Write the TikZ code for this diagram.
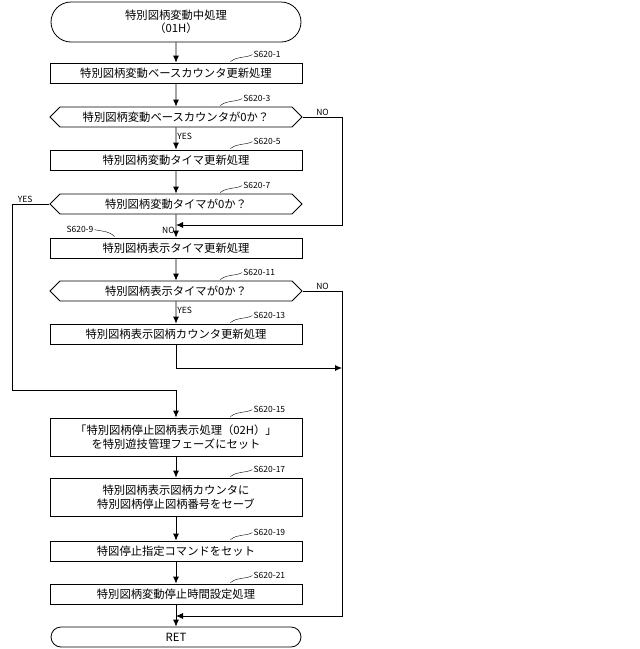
\documentclass[tikz,border=0pt]{standalone}
\usepackage{fontspec}
\setmainfont{Noto Sans CJK JP}
\usetikzlibrary{shapes.misc,shapes.symbols,arrows.meta}
\tikzset{
  proc/.style={draw, thick, minimum width=252pt, minimum height=20pt, inner sep=1pt, align=center, font=\fontsize{11.3}{13.5}\selectfont},
  term/.style={proc, rounded rectangle},
  decide/.style={draw, thick, signal, signal to=east and west, signal pointer angle=90, minimum width=252pt, minimum height=20pt, inner sep=1pt, font=\fontsize{11.3}{13.5}\selectfont},
  flow/.style={thick, -{Latex[length=7pt,width=6pt]}},
  tag/.style={font=\fontsize{8.5}{10}\selectfont, inner sep=1pt},
  yn/.style={font=\fontsize{8.5}{10}\selectfont, inner sep=1pt}
}
\newcommand{\steptag}[2]{%
  \draw (#1.north east) ++(-72pt,1pt) .. controls +(8pt,6pt) and +(-8pt,-4pt) .. ++(22pt,7pt) node[tag, right]{#2};}
\begin{document}
\begin{tikzpicture}[x=1pt, y=-1pt]
\useasboundingbox (0,0) rectangle (640,649);
\node[term, minimum height=40pt] (start) at (176,22) {特別図柄変動中処理\\（01H）};
\node[proc] (base) at (176,73) {特別図柄変動ベースカウンタ更新処理};
\node[decide] (isbase) at (176,117) {特別図柄変動ベースカウンタが0か？};
\node[proc] (vtimer) at (176,160) {特別図柄変動タイマ更新処理};
\node[decide] (isvt) at (176,204) {特別図柄変動タイマが0か？};
\node[proc] (dtimer) at (176,248) {特別図柄表示タイマ更新処理};
\node[decide] (isdt) at (176,291) {特別図柄表示タイマが0か？};
\node[proc] (dcount) at (176,334) {特別図柄表示図柄カウンタ更新処理};
\node[proc, minimum height=38pt] (phase) at (176,437) {「特別図柄停止図柄表示処理（02H）」\\を特別遊技管理フェーズにセット};
\node[proc, minimum height=38pt] (save) at (176,497) {特別図柄表示図柄カウンタに\\特別図柄停止図柄番号をセーブ};
\node[proc] (cmd) at (176,551) {特図停止指定コマンドをセット};
\node[proc] (stime) at (176,594) {特別図柄変動停止時間設定処理};
\node[term] (ret) at (176,637) {RET};

\coordinate (m1) at (176,225);
\coordinate (m2) at (176,368);
\coordinate (m3) at (176,390);
\coordinate (m4) at (176,616);

\steptag{base}{S620-1}
\steptag{isbase}{S620-3}
\steptag{vtimer}{S620-5}
\steptag{isvt}{S620-7}
\steptag{isdt}{S620-11}
\steptag{dcount}{S620-13}
\steptag{phase}{S620-15}
\steptag{save}{S620-17}
\steptag{cmd}{S620-19}
\steptag{stime}{S620-21}
\draw (dtimer.north west) ++(65pt,1pt) .. controls +(-6pt,6pt) and +(8pt,-2pt) .. ++(-20pt,7pt) node[tag, left]{S620-9};

\draw[flow] (start) -- (base);
\draw[flow] (base) -- (isbase);
\draw[flow] (isbase) -- node[yn, right, pos=0.4]{YES} (vtimer);
\draw[flow] (vtimer) -- (isvt);
\draw[flow] (isvt) -- node[yn, left, pos=0.7]{NO} (dtimer);
\draw[flow] (isbase.east) -- node[yn, above, pos=0.5]{NO} ++(40,0) |- (m1);
\draw[flow] (dtimer) -- (isdt);
\draw[flow] (isdt) -- node[yn, right, pos=0.4]{YES} (dcount);
\draw[thick] (isvt.west) -- node[yn, above, pos=0.65]{YES} (12,204) |- (m3);
\draw[flow] (m3) -- (phase);
\draw[flow] (dcount) |- (342,368);
\draw[flow] (isdt.east) -- node[yn, above, pos=0.5]{NO} ++(40,0) |- (m4);
\draw[flow] (phase) -- (save);
\draw[flow] (save) -- (cmd);
\draw[flow] (cmd) -- (stime);
\draw[flow] (stime) -- (ret);
\end{tikzpicture}
\end{document}
